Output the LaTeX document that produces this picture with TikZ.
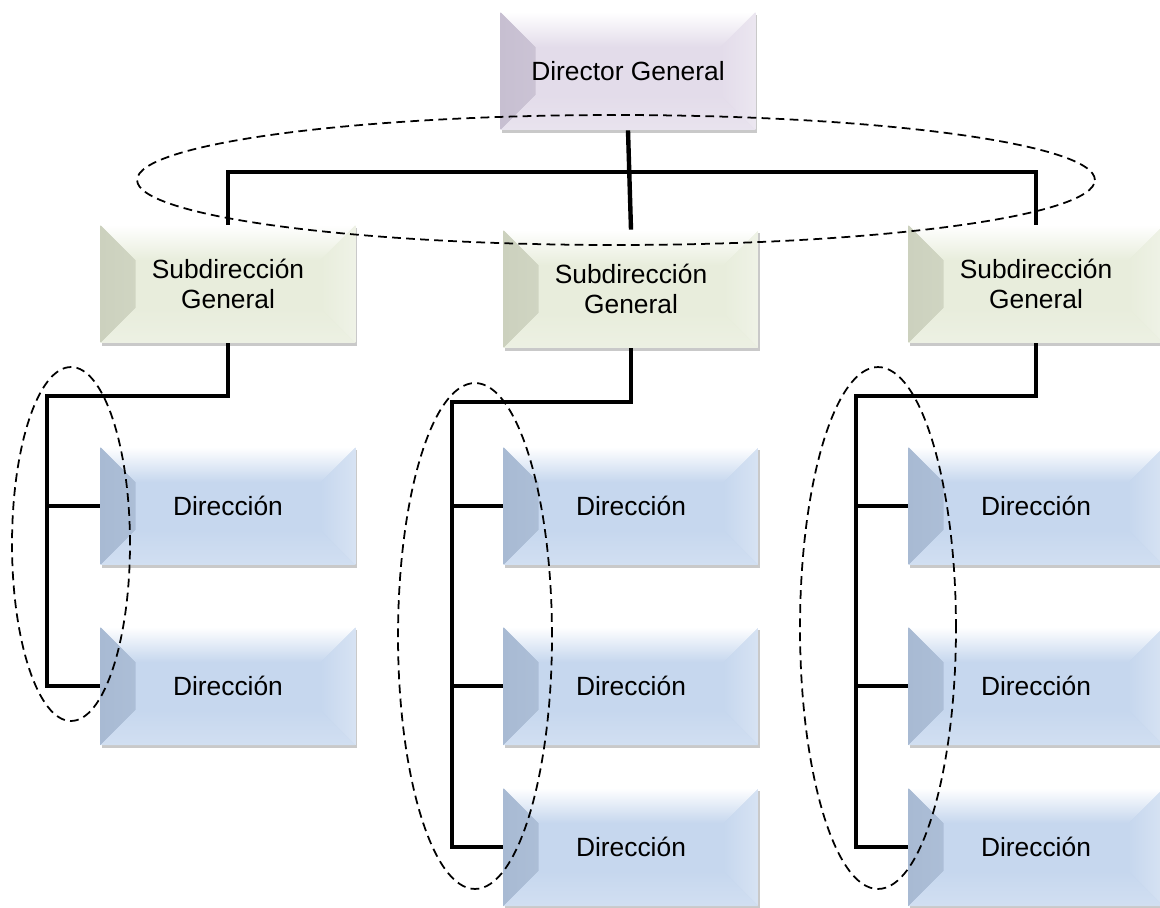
\documentclass[tikz,border=0pt]{standalone}
\usepackage{fontspec}
\setmainfont{Liberation Sans}
\usetikzlibrary{positioning, calc, shadows}
\definecolor{dirblue}{RGB}{198,215,238}
\definecolor{dirbluedk}{RGB}{168,186,211}
\definecolor{subgreen}{RGB}{232,237,220}
\definecolor{subgreendk}{RGB}{204,209,190}
\definecolor{dglila}{RGB}{227,220,234}
\definecolor{dgliladk}{RGB}{199,191,209}
\tikzset {
    x=0.02cm, y=-0.02cm,
    bevel/.style 2 args={
        rectangle, minimum width=5.1cm, minimum height=2.36cm, inner sep=0pt,
        align=center, font=\fontsize{15}{17.5}\selectfont,
        fill=#1,
        drop shadow={shadow xshift=0.8pt, shadow yshift=-1.6pt, opacity=0.3, fill=black!70},
        path picture={
            \path[left color=#2, right color=#1]
                (path picture bounding box.north west) -- ++(0.7cm,-0.7cm)
                -- ($(path picture bounding box.south west)+(0.7cm,0.7cm)$)
                -- (path picture bounding box.south west) -- cycle;
            \path[left color=#1, right color=white!30!#1]
                (path picture bounding box.north east) -- ++(-0.7cm,-0.7cm)
                -- ($(path picture bounding box.south east)+(-0.7cm,0.7cm)$)
                -- (path picture bounding box.south east) -- cycle;
            \path[top color=white, bottom color=#1]
                (path picture bounding box.north west) -- (path picture bounding box.north east)
                -- ++(-0.7cm,-0.7cm)
                -- ($(path picture bounding box.north west)+(0.7cm,-0.7cm)$) -- cycle;
            \path[top color=#1, bottom color=white!20!#1]
                (path picture bounding box.south west) -- (path picture bounding box.south east)
                -- ++(-0.7cm,0.7cm)
                -- ($(path picture bounding box.south west)+(0.7cm,0.7cm)$) -- cycle;
        }
    },
    dgbox/.style={bevel={dglila}{dgliladk}},
    subbox/.style={bevel={subgreen}{subgreendk}},
    dirbox/.style={bevel={dirblue}{dirbluedk}},
    link/.style={line width=2.5pt},
    grupo/.style={line width=1pt, dash pattern=on 5pt off 3pt}
}

\begin{document}
\begin{tikzpicture}
    \useasboundingbox (0,0) rectangle (1160,907);

    % cajas
    \node[dgbox] (dg) at (628,71) {Director General};

    \node[subbox] (sub1) at (228,284) {Subdirección\\General};
    \node[subbox] (sub2) at (631,289) {Subdirección\\General};
    \node[subbox] (sub3) at (1036,284) {Subdirección\\General};

    \node[dirbox] (d11) at (228,506) {Dirección};
    \node[dirbox] (d12) at (228,686) {Dirección};

    \node[dirbox] (d21) at (631,506) {Dirección};
    \node[dirbox] (d22) at (631,686) {Dirección};
    \node[dirbox] (d23) at (631,847) {Dirección};

    \node[dirbox] (d31) at (1036,506) {Dirección};
    \node[dirbox] (d32) at (1036,686) {Dirección};
    \node[dirbox] (d33) at (1036,847) {Dirección};

    \coordinate (top) at (628,172);
    \coordinate (c1) at (47,396);
    \coordinate (c2) at (452,402);
    \coordinate (c3) at (856,396);

    % lineas
    \draw[link] (dg.south) -- (sub2.north);
    \draw[link] (sub1.north) |- (top) -| (sub3.north);

    \draw[link] (sub1.south) |- (c1) |- (d12.west);
    \draw[link] (c1 |- d11.west) -- (d11.west);

    \draw[link] (sub2.south) |- (c2) |- (d23.west);
    \draw[link] (c2 |- d21.west) -- (d21.west);
    \draw[link] (c2 |- d22.west) -- (d22.west);

    \draw[link] (sub3.south) |- (c3) |- (d33.west);
    \draw[link] (c3 |- d31.west) -- (d31.west);
    \draw[link] (c3 |- d32.west) -- (d32.west);

    % grupos
    \draw[grupo] (616,180) ellipse [x radius=9.58cm, y radius=1.3cm];
    \draw[grupo] (71,544) ellipse [x radius=1.18cm, y radius=3.54cm];
    \draw[grupo] (475,636) ellipse [x radius=1.54cm, y radius=5.06cm];
    \draw[grupo] (878,628) ellipse [x radius=1.56cm, y radius=5.22cm];
\end{tikzpicture}
\end{document}
